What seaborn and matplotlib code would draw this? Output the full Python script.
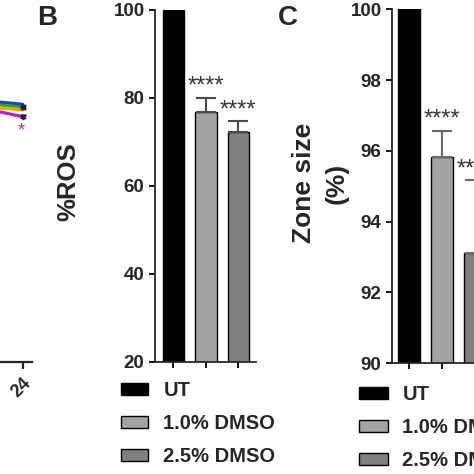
import matplotlib
matplotlib.use("Agg")
import matplotlib.pyplot as plt
import seaborn as sns
import pandas as pd
import numpy as np

sns.set_theme(style="ticks")
plt.rcParams['font.family'] = ['Liberation Sans', 'DejaVu Sans']
plt.rcParams['font.weight'] = 'bold'

# ---- data ----
groups = ["UT", "1.0% DMSO", "2.5% DMSO"]
bar_colors = ["#000000", "#a3a3a3", "#808080"]

ros_mean = [100.0, 76.9, 72.3]
ros_err = [0.0, 3.2, 2.4]
ros_stars = ["", "****", "****"]

zone_mean = [100.0, 95.83, 93.1]
zone_err = [0.0, 0.73, 2.07]
zone_stars = ["", "****", "****"]

# panel A (only last segment visible)
a_hours = [20, 24]
a_blue = [74.2, 73.2]
a_green = [73.4, 72.4]
a_orange = [72.6, 71.6]
a_magenta = [71.9, 69.7]
a_colors = ["#1f3fc8", "#2ca02c", "#f2a51a", "#b02cc0"]

W = H = 474.0
fig = plt.figure(figsize=(4.74, 4.74), dpi=100)

def px_axes(left, top, right, bottom):
    return fig.add_axes([left / W, (H - bottom) / H, (right - left) / W, (bottom - top) / H])

tick_kw = dict(labelsize=13.5, width=1.3, length=4.5, pad=3, color='black')

# ---- Panel A (partial) ----
axA = px_axes(-200, 10, 32, 362)
for vals, c in zip([a_blue, a_green, a_orange, a_magenta], a_colors):
    sns.lineplot(x=a_hours, y=vals, color=c, lw=2.4, ax=axA, legend=False)
ends = [a_blue[-1], a_green[-1], a_orange[-1], a_magenta[-1]]
axA.errorbar([24, 24], [ends[1], ends[3]], yerr=[0.5, 0.5], fmt='none', ecolor='#222', capsize=2, lw=1)
axA.plot([24], [ends[1]], marker='s', ms=3, color='#222')
axA.plot([24], [ends[3]], marker='v', ms=3.5, color='#222')
axA.text(23.8, ends[3] - 4.2, "*", color="#a030c0", fontsize=13, ha='center', va='center', fontweight='normal')
axA.set_xlim(0, 25)
axA.set_ylim(0, 100)
axA.set_xticks([24])
axA.set_xticklabels(["24"], rotation=45, fontsize=13, ha='right', rotation_mode='anchor')
axA.set_yticks([])
for s in ['top', 'right', 'left']:
    axA.spines[s].set_visible(False)
axA.spines['bottom'].set_linewidth(1.6)
axA.tick_params(axis='x', width=1.6, length=5, pad=4)

def bar_panel(ax, means, errs, stars, ylim, yticks, ecol):
    df = pd.DataFrame({"group": groups, "value": means})
    sns.barplot(data=df, x="group", y="value", hue="group", palette=bar_colors,
                width=0.66, edgecolor="black", linewidth=1.0, errorbar=None,
                legend=False, ax=ax)
    x = np.arange(len(groups))
    ax.errorbar(x[1:], means[1:], yerr=[np.zeros(len(groups) - 1), errs[1:]],
                fmt='none', ecolor=ecol, elinewidth=1.5, capsize=7, capthick=1.5, zorder=1)
    for xi, m, e, s in zip(x, means, errs, stars):
        if s:
            ax.text(xi, m + e, s, ha='center', va='bottom', fontsize=17,
                    fontweight='normal', color='#333333')
    ax.set_ylim(*ylim)
    ax.set_yticks(yticks)
    ax.set_xticks(x)
    ax.set_xticklabels([])
    ax.set_xlabel("")
    ax.set_ylabel("")
    sns.despine(ax=ax)
    for s in ['left', 'bottom']:
        ax.spines[s].set_linewidth(1.3)
    ax.tick_params(**tick_kw)
    for lab in ax.get_yticklabels():
        lab.set_fontweight('bold')

# ---- Panel B ----
axB = px_axes(155, 10, 256, 362)
bar_panel(axB, ros_mean, ros_err, ros_stars, (20, 100), [20, 40, 60, 80, 100], '#4a4a4a')
axB.set_xlim(-0.57, 2.55)

# ---- Panel C ----
axC = px_axes(392, 9.3, 495, 363)
bar_panel(axC, zone_mean, zone_err, zone_stars, (90, 100), [90, 92, 94, 96, 98, 100], '#6a6a6a')
axC.set_xlim(-0.52, 2.6)

# ---- labels ----
fig.text(47 / W, 1 - 18 / H, "B", fontsize=20, fontweight='bold', ha='center', va='center')
fig.text(288 / W, 1 - 18 / H, "C", fontsize=20, fontweight='bold', ha='center', va='center')
fig.text(68 / W, 1 - 182 / H, "%ROS", fontsize=18.5, fontweight='bold', rotation=90, ha='center', va='center')
fig.text(320 / W, 1 - 183 / H, "Zone size\n(%)", fontsize=19, fontweight='bold', rotation=90,
         ha='center', va='center', multialignment='center', linespacing=1.45)

# ---- legends ----
from matplotlib.patches import Patch
handles = [Patch(facecolor=c, edgecolor='black', linewidth=1.0) for c in bar_colors]
legB = fig.legend(handles, groups, loc='upper left', bbox_to_anchor=(121 / W, 1 - 381 / H),
                  frameon=False, prop={'size': 14.5, 'weight': 'bold'}, handlelength=1.35,
                  handleheight=0.6, handletextpad=0.75, labelspacing=0.7, borderpad=0, borderaxespad=0)
legC = fig.legend(handles, groups, loc='upper left', bbox_to_anchor=(359 / W, 1 - 385 / H),
                  frameon=False, prop={'size': 14.5, 'weight': 'bold'}, handlelength=1.45,
                  handleheight=0.6, handletextpad=0.7, labelspacing=0.7, borderpad=0, borderaxespad=0)

fig.savefig("out.png", dpi=100)
